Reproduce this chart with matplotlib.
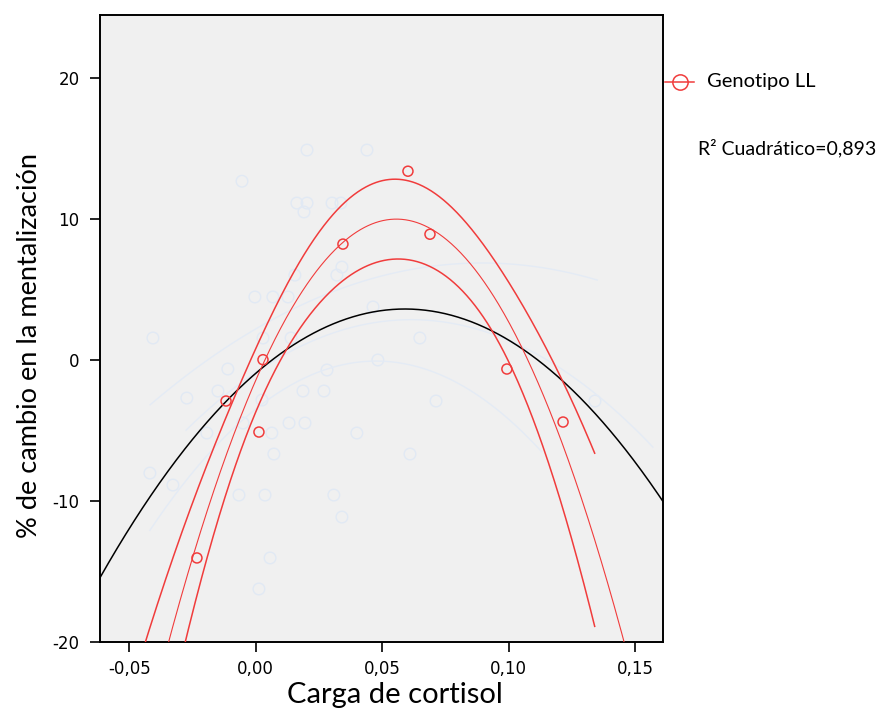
import numpy as np
import matplotlib
matplotlib.use("Agg")
import matplotlib.pyplot as plt
from matplotlib.lines import Line2D

plt.rcParams["axes.unicode_minus"] = False

# Genotype LL observations: cortisol load vs % change in mentalization
carga_ll = [-0.0232, -0.0117, 0.0029, 0.0013, 0.0345, 0.0602, 0.0689, 0.0993, 0.1215]
cambio_ll = [-14.06, -2.93, 0.0, -5.13, 8.2, 13.37, 8.9, -0.66, -4.42]

# Other (background) group, drawn in a pale tone
carga_otros = [-0.0054, 0.0163, 0.0203, 0.0191, 0.0302, 0.0337, 0.0203, 0.044, 0.0341,
               0.0321, 0.0155, -0.0003, 0.0068, 0.0128, -0.0406, 0.0029, 0.014, 0.0464,
               0.0483, 0.0282, -0.011, -0.0149, -0.0272, 0.0187, 0.027, 0.0025, -0.005,
               0.0132, 0.0195, 0.0064, 0.04, -0.0193, 0.0649, 0.0713, 0.1341, -0.0418,
               -0.0327, -0.0066, 0.0037, 0.0072, 0.0309, 0.0341, 0.0057, 0.0013, 0.061]
cambio_otros = [12.66, 11.11, 11.11, 10.48, 11.11, 11.11, 14.87, 14.87, 6.57,
                6.0, 6.0, 4.45, 4.45, 4.45, 1.54, 1.54, 1.54, 3.74,
                -0.02, -0.73, -0.66, -2.22, -2.72, -2.22, -2.22, -2.86, -4.49,
                -4.49, -4.49, -5.2, -5.2, -5.2, 1.54, -2.93, -2.93, -8.04,
                -8.89, -9.6, -9.6, -6.69, -9.6, -11.16, -14.06, -16.26, -6.69]

# Quadratic coefficients (a, b, c) of the pale background fit curves and their x spans
ghost_coefs = [[-584.4, 104.6, 2.18], [-990.0, 121.7, -0.90], [-1502.0, 143.0, -3.5]]
ghost_spans = [[-0.0417, 0.135], [-0.0275, 0.157], [-0.0418, 0.113]]

# Quadratic fit for the whole sample (black line)
total_coef = [-1312.0, 154.8, -0.97]

r2_label = "R\u00b2 Cuadrático=0,893"
ci_end = 0.134
ci_mult = 1.63

xticks = [-0.05, 0.0, 0.05, 0.10, 0.15]
xticklabels = ["-0,05", "0,00", "0,05", "0,10", "0,15"]
yticks = [-20, -10, 0, 10, 20]
xlim = (-0.0614, 0.161)
ylim = (-20, 24.47)

red = "#f03c3c"
pale = "#e1e9f4"

fig = plt.figure(figsize=(8.91, 7.11), dpi=100)
ax = fig.add_axes([100.3 / 891, 1 - 641.7 / 711, (663 - 100.3) / 891, (641.7 - 14.7) / 711])
ax.set_facecolor("#f0f0f0")

# pale background group
ax.scatter(carga_otros, cambio_otros, s=70, facecolors="none", edgecolors=pale, linewidths=1.0, zorder=1)
for gc, span in zip(ghost_coefs, ghost_spans):
    gx = np.linspace(span[0], span[1], 300)
    ax.plot(gx, np.polyval(gc, gx), color="#e4ebf5", lw=1.0, zorder=1)

xx = np.linspace(xlim[0], xlim[1], 600)
ax.plot(xx, np.polyval(total_coef, xx), color="black", lw=1.1, zorder=3)

# quadratic fit with confidence band of the mean
x = np.asarray(carga_ll)
y = np.asarray(cambio_ll)
coef = np.polyfit(x, y, 2)
X = np.vstack([x ** 2, x, np.ones_like(x)]).T
resid = y - X @ coef
dof = len(x) - 3
s2 = resid @ resid / dof
XtX_inv = np.linalg.inv(X.T @ X)

ax.plot(xx, np.polyval(coef, xx), color=red, lw=0.8, zorder=4)
xc = np.linspace(xlim[0], ci_end, 600)
Xc = np.vstack([xc ** 2, xc, np.ones_like(xc)]).T
se = np.sqrt(s2 * np.einsum("ij,jk,ik->i", Xc, XtX_inv, Xc))
fit_c = Xc @ coef
ax.plot(xc, fit_c + ci_mult * se, color=red, lw=1.1, zorder=4)
ax.plot(xc, fit_c - ci_mult * se, color=red, lw=1.1, zorder=4)

ax.scatter(carga_ll, cambio_ll, s=52, facecolors="none", edgecolors=red, linewidths=1.1, zorder=5)

ax.set_xlim(*xlim)
ax.set_ylim(*ylim)
ax.set_xticks(xticks)
ax.set_xticklabels(xticklabels)
ax.set_yticks(yticks)
for sp in ax.spines.values():
    sp.set_linewidth(1.4)
    sp.set_color("black")
ax.tick_params(axis="both", direction="out", length=7, width=1.2, labelsize=12, colors="black")
ax.tick_params(axis="y", pad=8)
ax.tick_params(axis="x", pad=6)

fig.text(395 / 891, 1 - 695 / 711, "Carga de cortisol", family="Lato", fontsize=21,
         ha="center", va="center")
fig.text(30 / 891, 1 - 345 / 711, "% de cambio en la mentalización", family="Lato", fontsize=19.5,
         ha="center", va="center", rotation=90)

# legend, drawn outside the plot area
ly = 1 - 82 / 711
fig.add_artist(Line2D([665 / 891, 694 / 891], [ly, ly], color=red, lw=1.1))
fig.add_artist(Line2D([680 / 891], [ly], marker="o", markersize=11, markerfacecolor="none",
                      markeredgecolor=red, markeredgewidth=1.1, color=red))
fig.text(707 / 891, ly, "Genotipo LL", family="Lato", fontsize=14.5, ha="left", va="center")
fig.text(698 / 891, 1 - 148 / 711, r2_label, family="Lato", fontsize=14, ha="left", va="center")

fig.savefig("out.png", dpi=100)
